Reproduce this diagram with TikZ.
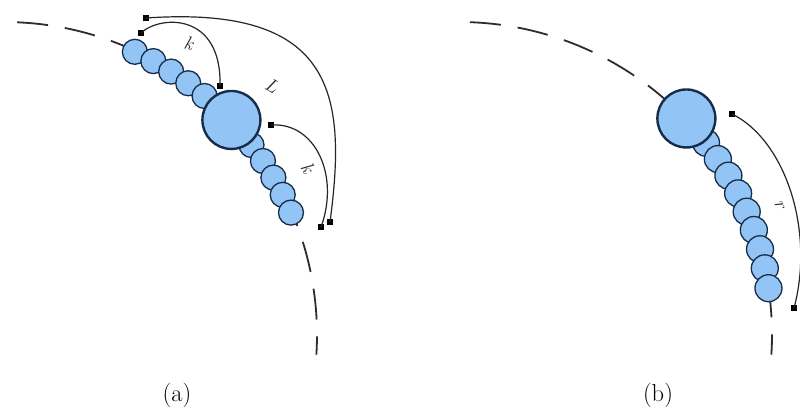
\documentclass[tikz,border=0pt]{standalone}
\definecolor{cfill}{RGB}{146,196,245}
\definecolor{cdraw}{RGB}{22,44,72}
\definecolor{gline}{RGB}{45,45,45}
\begin{document}
\begin{tikzpicture}[x=1pt,y=-1pt,
  small/.style={circle,draw=cdraw,fill=cfill,line width=1.3pt,minimum size=25pt,inner sep=0pt},
  smallb/.style={small,minimum size=27pt},
  big/.style={circle,draw=cdraw,fill=cfill,line width=2.4pt,minimum size=58pt,inner sep=0pt},
  guide/.style={draw=gline,line width=1.8pt},
  dim/.style={draw=black!85,line width=1.2pt},
  sq/.style={rectangle,fill=black,minimum size=6pt,inner sep=0pt},
  lab/.style={font=\fontsize{19}{19}\selectfont\itshape,text=black!85},
  captext/.style={font=\fontsize{24.5}{28}\selectfont}]
\useasboundingbox (0,0) rectangle (800,410);
\fill[white] (0,0) rectangle (800,410);

% ---------- panel (a) ----------
% dashed guide arc: dashes of 31px, gaps of 17px (5.675 deg / 3.112 deg at r=313)
\foreach \k in {0,...,10}{
  \pgfmathsetmacro\sa{87.6-8.787*\k}
  \pgfmathsetmacro\ea{max(\sa-5.675,-3.6)}
  \draw[guide] ({4+313*cos(\sa)},{335-313*sin(\sa)}) arc[start angle=-\sa,end angle=-\ea,radius=313];
}
\foreach \a [count=\i] in {65.2,61.4,57.6,53.8,50.0}
  \node[small] (au\i) at ({4+312*cos(\a)},{335-312*sin(\a)}) {};
\foreach \a [count=\i] in {37.5,33.9,30.3,26.7,23.1}
  \node[small] (al\i) at ({4+312*cos(\a)},{335-312*sin(\a)}) {};
\node[big] (abig) at ({4+313*cos(43.4)},{335-313*sin(43.4)}) {};

\node[sq] (m1) at (141,33) {};
\node[sq] (m2) at (220,86) {};
\node[sq] (m3) at (146,18) {};
\node[sq] (m4) at (330,222) {};
\node[sq] (m5) at (271,125) {};
\node[sq] (m6) at (321,227) {};
\draw[dim] (m1.center) .. controls (160,15) and (222,12) .. (m2.center);
\draw[dim] (m3.center) .. controls (335,5) and (347,95) .. (m4.center);
\draw[dim] (m5.center) .. controls (315,122) and (340,175) .. (m6.center);
\node[lab,rotate=-15] (lk1) at (189,43) {k};
\node[lab,rotate=-30] (lL) at (272,86) {L};
\node[lab,rotate=-60] (lk2) at (308,168) {k};

% ---------- panel (b) ----------
\foreach \k in {0,...,10}{
  \pgfmathsetmacro\sa{88-8.787*\k}
  \pgfmathsetmacro\ea{max(\sa-5.675,-3.6)}
  \draw[guide] ({459+313*cos(\sa)},{335-313*sin(\sa)}) arc[start angle=-\sa,end angle=-\ea,radius=313];
}
\foreach \a [count=\i] in {37.9,34.2,30.6,26.9,23.2,19.6,15.9,12.3,8.6}
  \node[smallb] (bl\i) at ({459+313*cos(\a)},{335-313*sin(\a)}) {};
\node[big] (bbig) at ({459+314*cos(43.6)},{335-314*sin(43.6)}) {};

\node[sq] (n1) at (732,114) {};
\node[sq] (n2) at (794,308) {};
\draw[dim] (n1.center) .. controls (785,140) and (815,230) .. (n2.center);
\node[lab,rotate=-70] (lr) at (779,205) {r};

% ---------- captions ----------
\node[captext] (capa) at (177,395) {(a)};
\node[captext] (capb) at (658,395) {(b)};
\end{tikzpicture}
\end{document}
